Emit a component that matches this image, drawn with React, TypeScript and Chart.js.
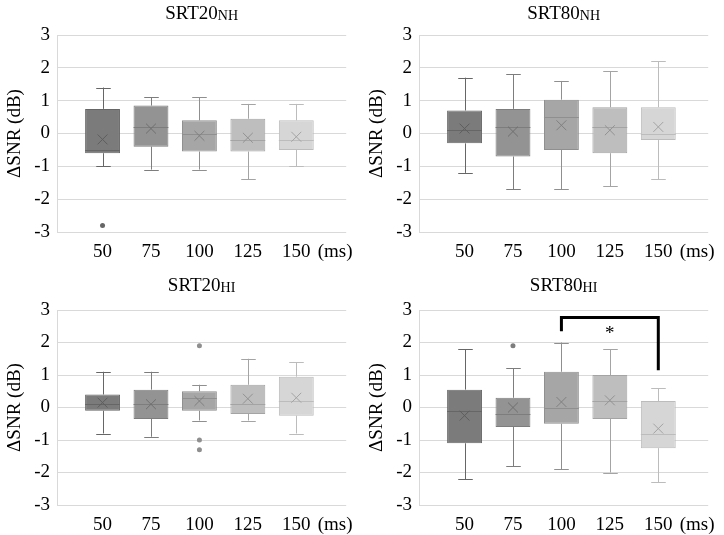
import React, { useEffect, useRef } from "react";
import { Chart, registerables } from "chart.js";

Chart.register(...registerables);

// ---------- data ----------
const categories = ["50", "75", "100", "125", "150"];
const categoryX = [1, 2, 3, 4, 5];
const unitLabel = "(ms)";
const unitX = 5.8;
const yTickValues = [-3, -2, -1, 0, 1, 2, 3];
const yAxisTitle = "ΔSNR (dB)";

const panelMain = ["SRT20", "SRT80", "SRT20", "SRT80"];
const panelSub = ["NH", "NH", "HI", "HI"];

// SRT20 NH
const nh20Lo = [-1.0, -1.1, -1.1, -1.4, -1.0];
const nh20Q1 = [-0.6, -0.4, -0.55, -0.55, -0.5];
const nh20Med = [-0.5, 0.2, 0.0, -0.2, -0.2];
const nh20Q3 = [0.75, 0.85, 0.4, 0.45, 0.4];
const nh20Hi = [1.4, 1.1, 1.1, 0.9, 0.9];
const nh20Mean = [-0.18, 0.15, -0.07, -0.13, -0.1];
const nh20OutX = [1];
const nh20OutY = [-2.8];

// SRT80 NH
const nh80Lo = [-1.2, -1.7, -1.7, -1.6, -1.4];
const nh80Q1 = [-0.3, -0.7, -0.5, -0.6, -0.2];
const nh80Med = [0.1, 0.2, 0.5, 0.2, 0.0];
const nh80Q3 = [0.7, 0.75, 1.03, 0.8, 0.8];
const nh80Hi = [1.7, 1.8, 1.6, 1.9, 2.2];
const nh80Mean = [0.15, 0.06, 0.25, 0.1, 0.2];
const nh80OutX: number[] = [];
const nh80OutY: number[] = [];

// SRT20 HI
const hi20Lo = [-0.8, -0.9, -0.4, -0.4, -0.8];
const hi20Q1 = [-0.1, -0.35, -0.1, -0.2, -0.25];
const hi20Med = [0.1, 0.1, 0.3, 0.1, 0.2];
const hi20Q3 = [0.4, 0.55, 0.5, 0.7, 0.95];
const hi20Hi = [1.1, 1.1, 0.7, 1.5, 1.4];
const hi20Mean = [0.15, 0.1, 0.2, 0.27, 0.3];
const hi20OutX = [3, 3, 3];
const hi20OutY = [1.9, -1.0, -1.3];

// SRT80 HI
const hi80Lo = [-2.2, -1.8, -1.9, -2.0, -2.3];
const hi80Q1 = [-1.1, -0.6, -0.5, -0.35, -1.25];
const hi80Med = [-0.1, -0.2, 0.0, 0.2, -0.8];
const hi80Q3 = [0.55, 0.3, 1.1, 1.0, 0.2];
const hi80Hi = [1.8, 1.2, 2.0, 1.8, 0.6];
const hi80Mean = [-0.25, 0.0, 0.17, 0.22, -0.65];
const hi80OutX = [2];
const hi80OutY = [1.9];

// significance bracket (SRT80 HI)
const bracketX = [3, 3, 5, 5];
const bracketY = [2.35, 2.77, 2.77, 1.15];
const starX = 4;
const starY = 2.38;
const starText = "*";

// ---------- style ----------
const boxFill = ["#7b7b7b", "#939393", "#a6a6a6", "#bebebe", "#d6d6d6"];
const boxEdge = ["#666666", "#7d7d7d", "#8f8f8f", "#a4a4a4", "#bcbcbc"];
const meanColor = ["#5e5e5e", "#6f6f6f", "#808080", "#929292", "#a4a4a4"];
const gridColor = "#d9d9d9";
const FONT = '"Liberation Serif", "Times New Roman", serif';

type Panel = {
  lo: number[]; q1: number[]; med: number[]; q3: number[]; hi: number[];
  mean: number[]; outX: number[]; outY: number[]; bracket: boolean;
};

const panels: Panel[] = [
  { lo: nh20Lo, q1: nh20Q1, med: nh20Med, q3: nh20Q3, hi: nh20Hi, mean: nh20Mean, outX: nh20OutX, outY: nh20OutY, bracket: false },
  { lo: nh80Lo, q1: nh80Q1, med: nh80Med, q3: nh80Q3, hi: nh80Hi, mean: nh80Mean, outX: nh80OutX, outY: nh80OutY, bracket: false },
  { lo: hi20Lo, q1: hi20Q1, med: hi20Med, q3: hi20Q3, hi: hi20Hi, mean: hi20Mean, outX: hi20OutX, outY: hi20OutY, bracket: false },
  { lo: hi80Lo, q1: hi80Q1, med: hi80Med, q3: hi80Q3, hi: hi80Hi, mean: hi80Mean, outX: hi80OutX, outY: hi80OutY, bracket: true },
];

function PanelChart({ idx, width, height }: { idx: number; width: number; height: number }) {
  const ref = useRef<HTMLCanvasElement | null>(null);
  useEffect(() => {
    if (!ref.current) return;
    const p = panels[idx];
    const isTop = idx < 2;
    const padTop = isTop ? 35 : 42;
    const xHeight = isTop ? 36 : 30;
    const titleBase = isTop ? 19 : 23;
    const xTickValues = [...categoryX, unitX];
    const xTickLabels = [...categories, unitLabel];

    const whiskerPlugin = {
      id: "whiskers" + idx,
      afterDatasetDraw(chart: any, args: any) {
        if (args.index !== 0) return;
        const ctx = chart.ctx;
        const xs = chart.scales.x;
        const ys = chart.scales.y;
        const meta = chart.getDatasetMeta(0);
        const unitPx = xs.getPixelForValue(2) - xs.getPixelForValue(1);
        const cap = unitPx * 0.3;
        ctx.save();
        ctx.lineWidth = 1;
        categoryX.forEach((xv, i) => {
          const x = Math.round(xs.getPixelForValue(xv)) + 0.5;
          const bar = meta.data[i];
          const half = bar.width / 2;
          ctx.strokeStyle = boxEdge[i];
          const yLo = ys.getPixelForValue(p.lo[i]);
          const yQ1 = ys.getPixelForValue(p.q1[i]);
          const yQ3 = ys.getPixelForValue(p.q3[i]);
          const yHi = ys.getPixelForValue(p.hi[i]);
          const yMed = Math.round(ys.getPixelForValue(p.med[i])) + 0.5;
          ctx.beginPath();
          ctx.moveTo(x, yQ3); ctx.lineTo(x, yHi);
          ctx.moveTo(x - cap / 2, Math.round(yHi) + 0.5); ctx.lineTo(x + cap / 2, Math.round(yHi) + 0.5);
          ctx.moveTo(x, yQ1); ctx.lineTo(x, yLo);
          ctx.moveTo(x - cap / 2, Math.round(yLo) + 0.5); ctx.lineTo(x + cap / 2, Math.round(yLo) + 0.5);
          ctx.moveTo(bar.x - half, yMed); ctx.lineTo(bar.x + half, yMed);
          ctx.stroke();
        });
        ctx.restore();
      },
      afterDraw(chart: any) {
        const ctx = chart.ctx;
        const ca = chart.chartArea;
        ctx.save();
        ctx.fillStyle = "#000";
        ctx.textBaseline = "alphabetic";
        ctx.font = `19px ${FONT}`;
        const wMain = ctx.measureText(panelMain[idx]).width;
        ctx.font = `14px ${FONT}`;
        const wSub = ctx.measureText(panelSub[idx]).width;
        const cx = (ca.left + ca.right) / 2;
        const x0 = cx - (wMain + wSub) / 2;
        ctx.textAlign = "left";
        ctx.font = `19px ${FONT}`;
        ctx.fillText(panelMain[idx], x0, titleBase);
        ctx.font = `14px ${FONT}`;
        ctx.fillText(panelSub[idx], x0 + wMain, titleBase + 1);
        if (p.bracket) {
          const xs = chart.scales.x;
          const ys = chart.scales.y;
          ctx.font = `19px ${FONT}`;
          ctx.textAlign = "center";
          ctx.textBaseline = "middle";
          ctx.fillText(starText, xs.getPixelForValue(starX), ys.getPixelForValue(starY) + 4);
        }
        ctx.restore();
      },
    };

    const datasets: any[] = [
      {
        type: "bar",
        data: categoryX.map((x, i) => ({ x, y: [p.q1[i], p.q3[i]] })),
        backgroundColor: boxFill,
        borderColor: boxEdge,
        borderWidth: 1,
        borderSkipped: false,
        barPercentage: 0.9,
        categoryPercentage: 1.0,
        order: 3,
      },
      {
        type: "scatter",
        data: categoryX.map((x, i) => ({ x, y: p.mean[i] })),
        pointStyle: "crossRot",
        pointRadius: 7,
        borderColor: meanColor,
        borderWidth: 1,
        order: 1,
      },
      {
        type: "scatter",
        data: p.outX.map((x, i) => ({ x, y: p.outY[i] })),
        pointStyle: "circle",
        pointRadius: 2.5,
        backgroundColor: p.outX.map((x) => boxEdge[x - 1]),
        borderColor: p.outX.map((x) => boxEdge[x - 1]),
        borderWidth: 0,
        order: 2,
      },
    ];
    if (p.bracket) {
      datasets.push({
        type: "line",
        data: bracketX.map((x, i) => ({ x, y: bracketY[i] })),
        borderColor: "#000",
        borderWidth: 3,
        pointRadius: 0,
        fill: false,
        tension: 0,
        borderJoinStyle: "miter",
        borderCapStyle: "butt",
        order: 0,
      });
    }

    const chart = new Chart(ref.current, {
      type: "bar",
      data: { datasets },
      plugins: [whiskerPlugin],
      options: {
        animation: false,
        responsive: false,
        devicePixelRatio: 1,
        layout: { padding: { top: padTop, right: 14, left: 0, bottom: 0 } },
        plugins: {
          legend: { display: false },
          tooltip: { enabled: false },
          title: { display: false },
        },
        scales: {
          x: {
            type: "linear",
            offset: false,
            min: 0.06,
            max: 6.03,
            grid: { display: false, drawTicks: false },
            border: { display: false },
            afterBuildTicks: (s: any) => {
              s.ticks = xTickValues.map((v) => ({ value: v }));
            },
            afterFit: (s: any) => {
              s.height = xHeight;
            },
            ticks: {
              autoSkip: false,
              maxRotation: 0,
              minRotation: 0,
              padding: 9,
              color: "#000",
              font: { family: FONT, size: 19 },
              callback: (_v: any, i: number) => xTickLabels[i],
            },
          },
          y: {
            min: -3,
            max: 3,
            afterBuildTicks: (s: any) => {
              s.ticks = yTickValues.map((v) => ({ value: v }));
            },
            afterFit: (s: any) => {
              s.width = 57;
            },
            grid: { color: gridColor, lineWidth: 1, drawTicks: false },
            border: { display: true, color: gridColor, width: 1 },
            ticks: {
              padding: 7,
              color: "#000",
              font: { family: FONT, size: 19 },
              callback: (v: any) => String(v),
            },
            title: {
              display: true,
              text: yAxisTitle,
              color: "#000",
              font: { family: FONT, size: 19 },
              padding: { top: 4, bottom: 0 },
            },
          },
        },
      } as any,
    });
    return () => chart.destroy();
  }, [idx]);
  return <canvas ref={ref} width={width} height={height} style={{ display: "block", width, height }} />;
}

export default function App() {
  const cells = [
    { left: 0, top: 0, h: 268 },
    { left: 362, top: 0, h: 268 },
    { left: 0, top: 268, h: 267 },
    { left: 362, top: 268, h: 267 },
  ];
  return (
    <div style={{ position: "fixed", left: 0, top: 0, width: 724, height: 535, background: "#fff" }}>
      {cells.map((c, i) => (
        <div key={i} style={{ position: "absolute", left: c.left, top: c.top, width: 362, height: c.h }}>
          <PanelChart idx={i} width={362} height={c.h} />
        </div>
      ))}
    </div>
  );
}
